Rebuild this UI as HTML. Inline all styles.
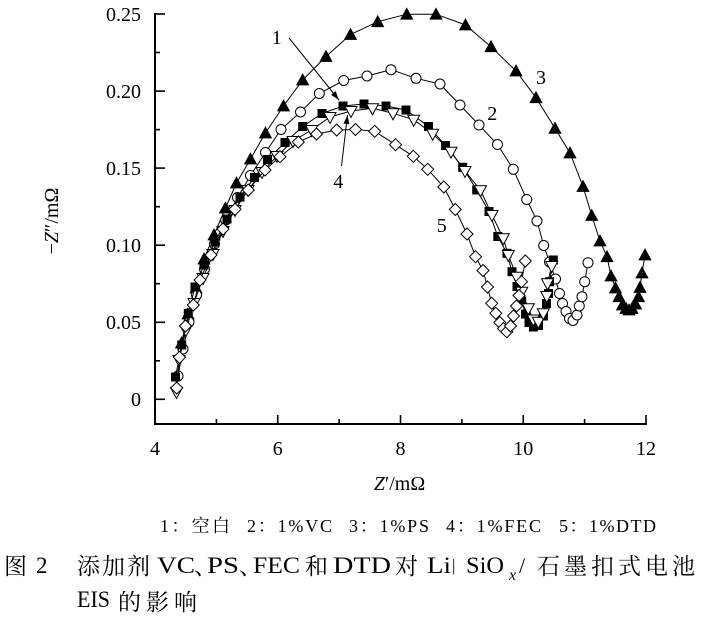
<!DOCTYPE html>
<html>
<head>
<meta charset="utf-8">
<style>
html,body{margin:0;padding:0;background:#fff;}
svg{display:block;}
</style>
</head>
<body>
<svg width="704" height="627" viewBox="0 0 704 627" xmlns="http://www.w3.org/2000/svg">
<defs>
<marker id="tri" markerWidth="14" markerHeight="14" refX="7" refY="7" markerUnits="userSpaceOnUse" orient="0" overflow="visible">
<path d="M7,1 L13,12 L1,12 Z" fill="#000" stroke="#000" stroke-width="0.8"/>
</marker>
<marker id="cir" markerWidth="12" markerHeight="12" refX="6" refY="6" markerUnits="userSpaceOnUse" orient="0" overflow="visible">
<circle cx="6" cy="6" r="5" fill="#fff" stroke="#000" stroke-width="1"/>
</marker>
<marker id="sq" markerWidth="10" markerHeight="10" refX="5" refY="5" markerUnits="userSpaceOnUse" orient="0" overflow="visible">
<rect x="0.5" y="0.5" width="9" height="9" fill="#000"/>
</marker>
<marker id="dtri" markerWidth="14" markerHeight="14" refX="7" refY="6.5" markerUnits="userSpaceOnUse" orient="0" overflow="visible">
<path d="M1,2 L13,2 L7,13 Z" fill="#fff" stroke="#000" stroke-width="1"/>
</marker>
<marker id="dia" markerWidth="14" markerHeight="14" refX="7" refY="7" markerUnits="userSpaceOnUse" orient="0" overflow="visible">
<path d="M7,1 L13,7 L7,13 L1,7 Z" fill="#fff" stroke="#000" stroke-width="1"/>
</marker>
<marker id="ah" markerWidth="10" markerHeight="10" refX="9" refY="4" markerUnits="userSpaceOnUse" orient="auto" overflow="visible">
<path d="M0,1 L9,4 L0,7 Z" fill="#000"/>
</marker>
</defs>

<!-- axes -->
<g stroke="#000" fill="none">
<line x1="155" y1="13" x2="155" y2="425" stroke-width="2"/>
<line x1="154" y1="424" x2="647" y2="424" stroke-width="2"/>
<g stroke-width="1.6">
<line x1="155" y1="14" x2="165" y2="14"/>
<line x1="155" y1="91.1" x2="165" y2="91.1"/>
<line x1="155" y1="168.1" x2="165" y2="168.1"/>
<line x1="155" y1="245.2" x2="165" y2="245.2"/>
<line x1="155" y1="322.3" x2="165" y2="322.3"/>
<line x1="155" y1="399.3" x2="165" y2="399.3"/>
<line x1="155" y1="52.5" x2="160" y2="52.5"/>
<line x1="155" y1="129.6" x2="160" y2="129.6"/>
<line x1="155" y1="206.7" x2="160" y2="206.7"/>
<line x1="155" y1="283.7" x2="160" y2="283.7"/>
<line x1="155" y1="360.8" x2="160" y2="360.8"/>
<line x1="277.75" y1="424" x2="277.75" y2="415"/>
<line x1="400.5" y1="424" x2="400.5" y2="415"/>
<line x1="523.25" y1="424" x2="523.25" y2="415"/>
<line x1="646" y1="424" x2="646" y2="415"/>
<line x1="216.4" y1="424" x2="216.4" y2="419"/>
<line x1="339.1" y1="424" x2="339.1" y2="419"/>
<line x1="461.9" y1="424" x2="461.9" y2="419"/>
<line x1="584.6" y1="424" x2="584.6" y2="419"/>
</g>
</g>

<!-- tick labels -->
<g font-family="'Liberation Serif', serif" font-size="20" fill="#000">
<g text-anchor="end">
<text x="141" y="21">0.25</text>
<text x="141" y="98">0.20</text>
<text x="141" y="175">0.15</text>
<text x="141" y="252">0.10</text>
<text x="141" y="329">0.05</text>
<text x="141" y="406">0</text>
</g>
<g text-anchor="middle">
<text x="155" y="455">4</text>
<text x="277.75" y="455">6</text>
<text x="400.5" y="455">8</text>
<text x="523.25" y="455">10</text>
<text x="646" y="455">12</text>
</g>
<text transform="translate(58,221) rotate(-90)" text-anchor="middle">−<tspan font-style="italic">Z</tspan>″/mΩ</text>
<text x="399.5" y="490" text-anchor="middle"><tspan font-style="italic">Z</tspan>′/mΩ</text>
<text x="276.7" y="44" text-anchor="middle">1</text>
<text x="492.3" y="120" text-anchor="middle">2</text>
<text x="541" y="84" text-anchor="middle">3</text>
<text x="338.3" y="188" text-anchor="middle">4</text>
<text x="441.7" y="232" text-anchor="middle">5</text>
</g>

<!-- arrows -->
<g stroke="#000" stroke-width="1" fill="none">
<line x1="289" y1="38" x2="339" y2="100" marker-end="url(#ah)"/>
<line x1="341.5" y1="166" x2="347.5" y2="115" marker-end="url(#ah)"/>
</g>

<!-- series -->
<g fill="none" stroke="#000" stroke-width="1">
<polyline marker-start="url(#tri)" marker-mid="url(#tri)" marker-end="url(#tri)" points="181.5,343 188,314 196,288 204,259 214,235 225.5,208 236.5,183 250.5,159 265.5,133 283.5,106 302.7,80 326,56.5 350.5,34.5 377.7,21.7 406.7,14.2 436,14.2 465.5,25 491,46.7 516,71 536,97.7 555,128.3 570,153 583,186.5 591.7,215.5 600,241 607,256.7 611,276 615.5,288 619,296.7 622.5,305 626,308.5 629,310 632,308.5 635.5,304 638.5,296.7 640,287.5 642,273 645,255"/>
<polyline marker-start="url(#cir)" marker-mid="url(#cir)" marker-end="url(#cir)" points="178,376 183,349 189,322 196.5,295 204.5,269 214.5,244 225.7,220 237.5,197.5 250.5,175.5 265.5,152.5 281,129.5 300.5,112 319.3,93.5 343.7,80.5 367,76 391,69.7 416,78.3 440,84 460,105 479,125 497.5,144.5 513.3,169.3 526.7,199.5 537,221 543.7,245.5 549.5,262 555.5,279 559.5,293.5 562.5,303.5 566,311.5 569.5,318.5 573,320.5 577,315 579.3,306 582,296.7 584.7,281.7 588,262.7"/>
<polyline marker-start="url(#sq)" marker-mid="url(#sq)" marker-end="url(#sq)" points="175.5,377 181.7,345 188.3,313.3 195,287 204,265 215,242 227,219 240,197 254.5,177.5 267.5,159.5 285,142.5 302.7,126.5 322,113.5 343,106 364,104 386,106 406,110 428.5,126.5 445.5,145.5 462.7,167.3 476.7,190 489,211.5 497.8,236.5 507,253.3 512,271.7 517,286.5 521.7,301 525.5,314 529,322.5 533.5,327 538.5,325.5 543.5,316 546.5,303.5 548.5,293.5 549.5,281.7 553.3,260"/>
<polyline marker-start="url(#dtri)" marker-mid="url(#dtri)" marker-end="url(#dtri)" points="176.5,392 179,360 186,330 194,303 203,278 213,254 223,231 235,210 248,190 262,172 277,156 293,141 311.7,130 330,117 351,111 372.5,108.3 393,113.3 413.7,119.7 432.7,133.7 451,151.7 465,171 480.5,190.3 492,215 503.3,238.3 508.3,255 516.7,276.7 521.7,291.7 528.3,308.3 533.3,319.5 538.3,321.7 543.3,313.3 546.7,296 547.5,283.3 551.7,266"/>
<polyline marker-start="url(#dia)" marker-mid="url(#dia)" marker-end="url(#dia)" points="176.7,388 179.5,357.3 185.5,326 193.3,305 200,280 211,255 223,229 235,209.3 248.3,190 265,170 280,156.7 298.3,142 316.5,134 336.7,130 355.5,129.5 374.7,131.3 395.5,144.7 413.3,156.3 427.7,169.3 443.8,187 455.3,209.5 467,234 475.5,256.7 483,270.5 487.5,287 491.7,303.3 495.8,313.3 499.8,322.5 503.5,328.5 506.8,331.7 510.5,326 513.5,316 516.5,306 519,295.5 521.5,281.7 525.3,261"/>
</g>

<!-- legend -->
<g font-family="'Liberation Serif', 'Noto Serif CJK SC', serif" font-size="18" fill="#000">
<text x="160" y="532" textLength="70" lengthAdjust="spacing">1：空白</text>
<text x="247" y="532" textLength="85" lengthAdjust="spacing">2：1%VC</text>
<text x="349" y="532" textLength="80" lengthAdjust="spacing">3：1%PS</text>
<text x="446" y="532" textLength="95" lengthAdjust="spacing">4：1%FEC</text>
<text x="559" y="532" textLength="97" lengthAdjust="spacing">5：1%DTD</text>
</g>

<!-- caption -->
<g font-family="'Liberation Serif', 'Noto Serif CJK SC', serif" font-size="23" fill="#000">
<text x="4" y="574">图</text>
<text x="36" y="573">2</text>
<text x="77 102 127" y="574">添加剂</text>
<text x="157" y="573" textLength="38" lengthAdjust="spacingAndGlyphs">VC</text>
<text x="194" y="574">、</text>
<text x="207" y="573" textLength="32" lengthAdjust="spacingAndGlyphs">PS</text>
<text x="239" y="574">、</text>
<text x="253" y="573" textLength="47" lengthAdjust="spacingAndGlyphs">FEC</text>
<text x="305" y="574">和</text>
<text x="333" y="573" textLength="58" lengthAdjust="spacingAndGlyphs">DTD</text>
<text x="395" y="574">对</text>
<text x="427" y="573" textLength="24" lengthAdjust="spacingAndGlyphs">Li</text>
<text x="452" y="571" font-size="17">|</text>
<text x="466" y="573" textLength="38" lengthAdjust="spacingAndGlyphs">SiO</text>
<text x="509" y="580" font-size="16" font-style="italic">x</text>
<text x="519" y="573" font-size="22">/</text>
<text x="537 564 591 618 645 672" y="574">石墨扣式电池</text>
<text x="77" y="607" textLength="33" lengthAdjust="spacingAndGlyphs">EIS</text>
<text x="118 146 174" y="610">的影响</text>
</g>
</svg>
</body>
</html>
